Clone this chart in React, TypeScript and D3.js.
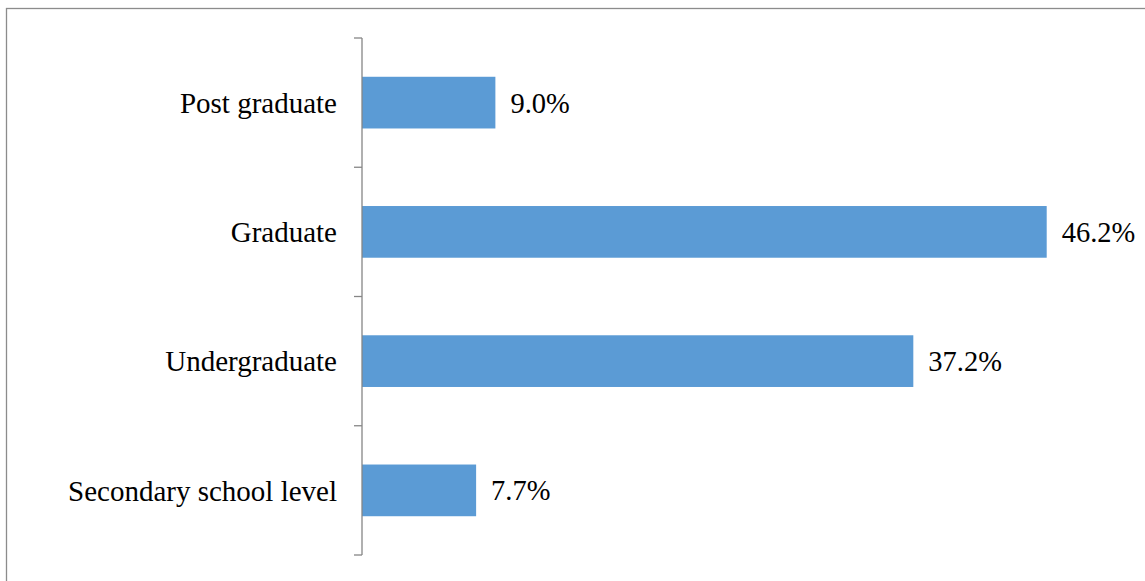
import React from "react";
import * as d3 from "d3";

const categories = ["Post graduate", "Graduate", "Undergraduate", "Secondary school level"];
const values = [9.0, 46.2, 37.2, 7.7];
const valueLabels = ["9.0%", "46.2%", "37.2%", "7.7%"];

const W = 1145;
const H = 581;
const axisX = 362;
const top = 38;
const bottom = 555;

export default function App() {
  const y = d3.scaleBand<string>().domain(categories).range([top, bottom]).paddingInner(0.6).paddingOuter(0.3);
  const x = d3.scaleLinear().domain([0, 46.2]).range([axisX, 1046.7]);
  const step = (bottom - top) / categories.length;
  const ticks = d3.range(categories.length + 1).map((i) => top + i * step);
  const font = "Liberation Serif, Times New Roman, serif";
  return (
    <svg width={W} height={H} style={{ position: "absolute", left: 0, top: 0, background: "#fff" }}>
      <rect x={6.5} y={8.5} width={W + 10} height={H + 10} fill="none" stroke="#8c8c8c" strokeWidth={1.3} />
      {categories.map((c, i) => (
        <g key={c}>
          <rect x={x(0)} y={y(c)!} width={x(values[i]) - x(0)} height={y.bandwidth()} fill="#5B9BD5" />
          <text x={x(values[i]) + 15} y={y(c)! + y.bandwidth() / 2} dy="0.35em" style={{ fontFamily: font }} fontSize={28.5} fill="#000">
            {valueLabels[i]}
          </text>
          <text x={axisX - 25} y={y(c)! + y.bandwidth() / 2} dy="0.35em" textAnchor="end" style={{ fontFamily: font }} fontSize={29} fill="#000">
            {c}
          </text>
        </g>
      ))}
      <line x1={axisX} x2={axisX} y1={top} y2={bottom} stroke="#868686" strokeWidth={1.3} />
      {ticks.map((t, i) => (
        <line key={i} x1={axisX - 8} x2={axisX} y1={t} y2={t} stroke="#868686" strokeWidth={1.3} />
      ))}
    </svg>
  );
}
